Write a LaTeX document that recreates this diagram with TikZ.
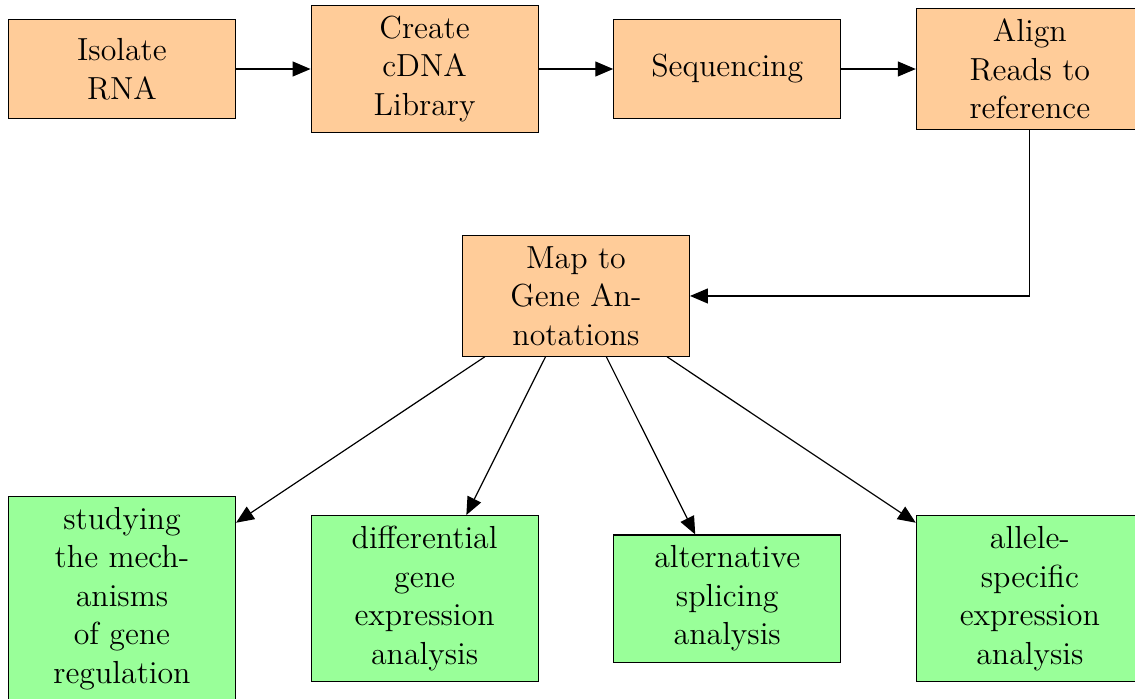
\documentclass[tikz,border=0pt]{standalone}
\usetikzlibrary{arrows.meta}
\begin{document}
\begin{tikzpicture}[
  font=\fontsize{12}{14.5}\selectfont,
  >={Triangle[length=6.7pt,width=5.6pt]},
  every path/.style={line width=0.45pt},
  stage/.style={draw, rectangle, fill=orange!40, align=center,
    minimum width=3cm, minimum height=1.3cm, inner sep=4pt},
  usecase/.style={draw, rectangle, fill=green!40, align=center,
    minimum width=3cm, minimum height=1.3cm, inner sep=4pt},
  flow/.style={->}
]
\useasboundingbox (-45.88pt,25.95pt) rectangle (380.97pt,-236.56pt);

% pipeline stages
\node[stage] (isolate) at (0,0)  {Isolate\\RNA};
\node[stage] (cdna)    at (4,0)  {Create\\cDNA\\Library};
\node[stage] (seq)     at (8,0)  {Sequencing};
\node[stage] (align)   at (12,0) {Align\\Reads to\\reference};
\node[stage] (map)     at (6,-3) {Map to\\Gene An-\\notations};

% downstream analyses
\node[usecase] (mech)    at (0,-7)  {studying\\the mech-\\anisms\\of gene\\regulation};
\node[usecase] (diffexp) at (4,-7)  {differential\\gene\\expression\\analysis};
\node[usecase] (splice)  at (8,-7)  {alternative\\splicing\\analysis};
\node[usecase] (allele)  at (12,-7) {allele-\\specific\\expression\\analysis};

\draw[flow] (isolate) -- (cdna);
\draw[flow] (cdna) -- (seq);
\draw[flow] (seq) -- (align);
\draw[flow] (align) |- (map);
\draw[flow] (map) -- (mech);
\draw[flow] (map) -- (diffexp);
\draw[flow] (map) -- (splice);
\draw[flow] (map) -- (allele);
\end{tikzpicture}
\end{document}
